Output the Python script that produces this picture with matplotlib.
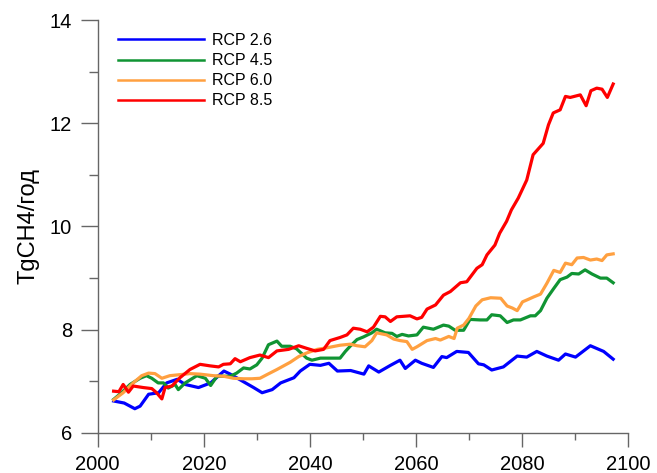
#! /usr/bin/env python
import matplotlib
matplotlib.use("Agg")
import matplotlib.pyplot as plt
from matplotlib.ticker import MultipleLocator

# methane emission scenarios, TgCH4 per year
blue_years = [2003, 2005, 2007, 2008, 2009.6, 2011.5, 2013, 2015, 2016.5, 2019,
              2021.3, 2023.8, 2025, 2027.2, 2029.4, 2031, 2032.9, 2034.5, 2037, 2038.2,
              2040, 2042, 2043.6, 2045.2, 2047.7, 2050.2, 2051.1, 2053, 2055.2, 2057,
              2058, 2059.9, 2061.1, 2063.3, 2064.9, 2065.8, 2067.7, 2069.9, 2071.8, 2072.8,
              2074.3, 2076.5, 2079.1, 2080.9, 2082.8, 2084.7, 2086.9, 2088.2, 2090.1, 2092.9,
              2095.4, 2097.2]
rcp26 = [6.62, 6.58, 6.47, 6.52, 6.75, 6.78, 6.97, 7.04, 6.94, 6.88,
         6.97, 7.20, 7.14, 7.01, 6.88, 6.78, 6.84, 6.97, 7.07, 7.20,
         7.33, 7.31, 7.35, 7.20, 7.21, 7.14, 7.30, 7.18, 7.31, 7.41,
         7.25, 7.41, 7.35, 7.27, 7.48, 7.46, 7.58, 7.56, 7.34, 7.32,
         7.22, 7.28, 7.49, 7.47, 7.58, 7.49, 7.41, 7.53, 7.47, 7.69,
         7.58, 7.43]

green_years = [2003, 2004.5, 2006.1, 2008, 2009.2, 2010.2, 2011.4, 2012.4, 2013.3, 2014.6,
               2015.2, 2016.5, 2018.7, 2020.3, 2021.3, 2022.5, 2023.8, 2025, 2026.2, 2027.5,
               2028.7, 2030, 2031, 2032.2, 2033.8, 2034.7, 2036.3, 2037.5, 2039.4, 2040.4,
               2042, 2043.8, 2045.7, 2046.7, 2047.6, 2048.9, 2050.1, 2051.7, 2052.6, 2054.2,
               2055.5, 2056.4, 2057.4, 2058.6, 2060.2, 2061.4, 2063.3, 2065.2, 2066.2, 2067.4,
               2069, 2070.2, 2072.1, 2073.4, 2074.3, 2075.9, 2077.2, 2078.4, 2079.7, 2081.6,
               2082.5, 2083.5, 2084.7, 2086, 2087.2, 2088.5, 2089.4, 2090.7, 2091.9, 2093.2,
               2094.8, 2096, 2097.2]
rcp45 = [6.65, 6.78, 6.94, 7.06, 7.11, 7.06, 6.97, 6.97, 6.87, 6.94,
         6.84, 6.97, 7.11, 7.06, 6.92, 7.10, 7.10, 7.10, 7.16, 7.26,
         7.24, 7.32, 7.45, 7.71, 7.78, 7.68, 7.68, 7.63, 7.45, 7.41,
         7.45, 7.45, 7.45, 7.58, 7.68, 7.81, 7.86, 7.94, 8.01, 7.94,
         7.93, 7.87, 7.91, 7.88, 7.90, 8.05, 8.01, 8.09, 8.07, 7.99,
         7.99, 8.20, 8.19, 8.19, 8.29, 8.27, 8.14, 8.19, 8.19, 8.27,
         8.27, 8.37, 8.61, 8.80, 8.97, 9.02, 9.09, 9.08, 9.16, 9.08,
         9.00, 9.00, 8.91]

orange_years = [2003, 2004.8, 2006.7, 2008.3, 2009.6, 2010.8, 2012.1, 2013.6, 2015.5, 2017.4,
                2019.3, 2021.8, 2023.7, 2025.6, 2027.5, 2029.1, 2030.6, 2031.9, 2033.8, 2036.3,
                2037.9, 2039.4, 2041.4, 2043.2, 2045.7, 2047.6, 2048.9, 2050.4, 2051.7, 2052.6,
                2054.5, 2055.8, 2057, 2058.3, 2059.3, 2060.2, 2062.1, 2063.7, 2064.6, 2066.2,
                2067.2, 2067.8, 2069, 2070, 2071.3, 2072.5, 2074.1, 2076, 2077.2, 2078.2,
                2079.1, 2080.1, 2081, 2082.3, 2083.5, 2084.7, 2086, 2087.2, 2088.2, 2089.4,
                2090.4, 2091.6, 2092.9, 2094.1, 2095.1, 2096, 2097.2]
rcp60 = [6.64, 6.78, 6.97, 7.11, 7.16, 7.15, 7.06, 7.11, 7.13, 7.15,
         7.14, 7.11, 7.10, 7.06, 7.05, 7.05, 7.06, 7.13, 7.23, 7.37,
         7.48, 7.55, 7.62, 7.65, 7.70, 7.72, 7.69, 7.67, 7.79, 7.94,
         7.90, 7.82, 7.79, 7.77, 7.62, 7.67, 7.79, 7.83, 7.80, 7.87,
         7.83, 8.03, 8.09, 8.22, 8.46, 8.58, 8.62, 8.61, 8.46, 8.42,
         8.37, 8.54, 8.58, 8.64, 8.69, 8.90, 9.15, 9.11, 9.29, 9.26,
         9.39, 9.40, 9.35, 9.37, 9.34, 9.45, 9.47]

red_years = [2003, 2004, 2004.8, 2005.8, 2006.7, 2008.6, 2010.2, 2011.1, 2012.1, 2012.7,
             2014, 2015.5, 2017.4, 2019.3, 2021.2, 2022.8, 2023.7, 2025, 2025.9, 2026.9,
             2028.7, 2030.6, 2032.2, 2033.8, 2036, 2037.9, 2039.4, 2041, 2042.6, 2043.8,
             2045.7, 2047, 2048.2, 2049.5, 2050.8, 2052, 2053.3, 2054.2, 2055.2, 2056.4,
             2058.9, 2060.2, 2061.1, 2062.1, 2063.7, 2065.2, 2066.5, 2068.4, 2069.6, 2071.5,
             2072.5, 2073.4, 2074.9, 2075.8, 2077.1, 2078, 2079.3, 2080.9, 2082.1, 2084,
             2085, 2085.9, 2087.2, 2088.2, 2089.1, 2091, 2092.1, 2093, 2094.1, 2095.1,
             2096.1, 2097.2]
rcp85 = [6.81, 6.80, 6.94, 6.79, 6.91, 6.88, 6.86, 6.78, 6.66, 6.88,
         6.91, 7.07, 7.23, 7.33, 7.30, 7.28, 7.33, 7.34, 7.44, 7.38,
         7.46, 7.51, 7.46, 7.59, 7.62, 7.69, 7.64, 7.59, 7.62, 7.79,
         7.85, 7.90, 8.03, 8.01, 7.96, 8.05, 8.26, 8.25, 8.16, 8.25,
         8.27, 8.21, 8.24, 8.40, 8.48, 8.67, 8.74, 8.91, 8.93, 9.19,
         9.26, 9.45, 9.64, 9.87, 10.10, 10.32, 10.55, 10.90, 11.39, 11.61,
         11.97, 12.20, 12.26, 12.52, 12.50, 12.55, 12.34, 12.63, 12.68, 12.66,
         12.50, 12.76]

labels = ['RCP 2.6', 'RCP 4.5', 'RCP 6.0', 'RCP 8.5']
colors = ['#0000ff', '#109433', '#ffa040', '#ff0000']


def main():
    plt.rcParams['font.family'] = ['Liberation Sans', 'DejaVu Sans']

    fig = plt.figure(figsize=(6.57, 4.73), dpi=100)
    ax = fig.add_axes([0.1487, 0.0846, 0.8072, 0.8731])

    series = [(blue_years, rcp26), (green_years, rcp45),
              (orange_years, rcp60), (red_years, rcp85)]
    for (years, vals), lab, col in zip(series, labels, colors):
        ax.plot(years, vals, color=col, lw=2.3, label=lab, solid_joinstyle='round')

    ax.set_xlim(2000, 2100)
    ax.set_ylim(6, 14)
    ax.xaxis.set_major_locator(MultipleLocator(20))
    ax.xaxis.set_minor_locator(MultipleLocator(10))
    ax.yaxis.set_major_locator(MultipleLocator(2))
    ax.yaxis.set_minor_locator(MultipleLocator(1))

    for side in ['top', 'right']:
        ax.spines[side].set_visible(False)
    for side in ['left', 'bottom']:
        ax.spines[side].set_color('#666666')
        ax.spines[side].set_linewidth(1.0)

    ax.tick_params(axis='both', which='both', direction='out', color='#666666', width=1.0)
    ax.tick_params(axis='y', which='major', length=12.5, pad=6, labelsize=14.5)
    ax.tick_params(axis='y', which='minor', length=6.5)
    ax.tick_params(axis='x', which='major', length=10, pad=6, labelsize=14.5)
    ax.tick_params(axis='x', which='minor', length=5)

    ax.set_ylabel('TgCH4/год', fontsize=17, labelpad=7)

    leg = ax.legend(loc='upper left', bbox_to_anchor=(118 / 657, 1 - 33 / 473),
                    bbox_transform=fig.transFigure, frameon=False, fontsize=11.5,
                    handlelength=5.4, handletextpad=0.5, labelspacing=0.32,
                    borderpad=0, borderaxespad=0)
    for line in leg.get_lines():
        line.set_linewidth(1.8)

    fig.savefig('out.png', dpi=100)


########################################
if __name__ == "__main__":
    main()
